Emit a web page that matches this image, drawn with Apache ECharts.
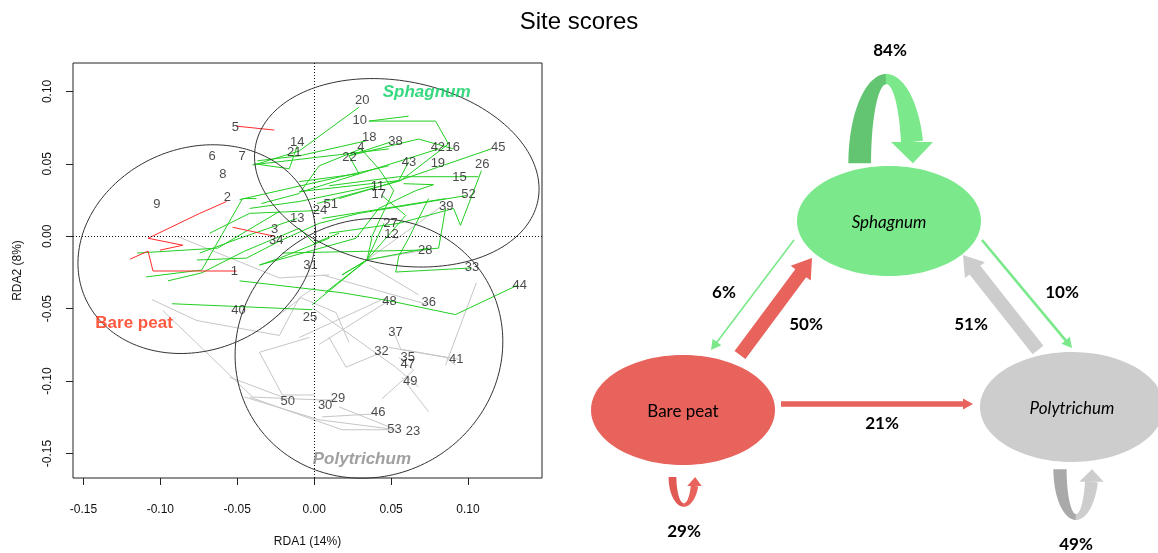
<!DOCTYPE html>
<html>
<head>
<meta charset="utf-8">
<script src="https://cdn.jsdelivr.net/npm/echarts@6/dist/echarts.min.js"></script>
<style>
  html, body { margin: 0; padding: 0; background: #ffffff; }
  #chart { width: 1158px; height: 553px; }
</style>
</head>
<body>
<div id="chart"></div>
<script>
// ---------- RDA site scores ----------
const siteIds = [1, 2, 3, 4, 5, 6, 7, 8, 9, 10, 11, 12, 13, 14, 15, 16, 17, 18, 19, 20,
  21, 22, 23, 24, 25, 26, 27, 28, 29, 30, 31, 32, 33, 34, 35, 36, 37, 38, 39, 40,
  41, 42, 43, 44, 45, 46, 47, 48, 49, 50, 51, 52, 53];
const siteRDA1 = [-0.0519, -0.0565, -0.0257, 0.0304, -0.0513, -0.0664, -0.0468, -0.0593, -0.1022, 0.0296,
  0.0412, 0.0502, -0.011, -0.011, 0.0944, 0.0901, 0.042, 0.0358, 0.0804, 0.0313,
  -0.0129, 0.0229, 0.0642, 0.0037, -0.0028, 0.1093, 0.0496, 0.0722, 0.0155, 0.0071,
  -0.0024, 0.0438, 0.1026, -0.0246, 0.0608, 0.0744, 0.0528, 0.0528, 0.0858, -0.0492,
  0.0923, 0.0804, 0.0617, 0.1337, 0.1197, 0.0416, 0.0608, 0.049, 0.0625, -0.0172,
  0.0108, 0.1003, 0.0522];
const siteRDA2 = [-0.0242, 0.0269, 0.0048, 0.0612, 0.0751, 0.0553, 0.0548, 0.0429, 0.0221, 0.0801,
  0.0347, 0.0014, 0.0123, 0.0649, 0.0409, 0.0614, 0.029, 0.0685, 0.0505, 0.0936,
  0.058, 0.0546, -0.1347, 0.018, -0.0562, 0.0493, 0.0089, -0.01, -0.1121, -0.1169,
  -0.0201, -0.0795, -0.0214, -0.0032, -0.084, -0.0459, -0.0664, 0.0655, 0.0205, -0.0511,
  -0.0847, 0.0614, 0.0511, -0.0338, 0.061, -0.1215, -0.0886, -0.0447, -0.1002, -0.1137,
  0.0219, 0.0288, -0.1331];

// Successional trajectories of the plots through time, by cover type
const bareTracks = [
  [[-0.0505, 0.076], [-0.0259, 0.0733]],
  [[-0.0569, 0.024], [-0.0744, 0.0158], [-0.108, -0.0014], [-0.0854, -0.0062], [-0.1003, -0.0096]],
  [[-0.0505, -0.024], [-0.0776, -0.024], [-0.1048, -0.024], [-0.108, -0.0103], [-0.1197, -0.0158]],
  [[-0.053, 0.0062], [-0.0259, 0]]
];
const sphagnumTracks = [
  [[0.0291, 0.089], [0.0097, 0.074], [-0.0097, 0.0589], [-0.0388, 0.0493]],
  [[0.0614, 0.0829], [0.0356, 0.0795], [0.0789, 0.0795], [0.0873, 0.0637], [0.0563, 0.0384], [0.0019, 0.0226]],
  [[0.0336, 0.0658], [-0.0097, 0.0555], [-0.0369, 0.0521]],
  [[0.0498, 0.0651], [0.0226, 0.0555], [0.0291, 0.0432], [-0.0097, 0.0377]],
  [[0.0304, 0.0603], [0.0032, 0.0486], [-0.0097, 0.0295], [-0.0343, 0.0226]],
  [[0.0614, 0.0514], [0.055, 0.0384], [-0.0097, 0.0308]],
  [[0.1151, 0.0603], [0.055, 0.0384], [0.0162, 0.026]],
  [[0.1067, 0.0411], [0.055, 0.0411], [0.0097, 0.0349]],
  [[0.1087, 0.0452], [0.0951, 0.0075], [0.0906, 0.0192], [0.055, 0.0089], [0.0097, 0.0021]],
  [[0.099, 0.0281], [0.0291, 0.0158], [0.0032, 0.0089]],
  [[0.0854, 0.0192], [0.0809, -0.0082], [0.0679, -0.0096], [-0.0207, -0.0116]],
  [[0.0854, 0.026], [0.0052, 0.0123]],
  [[0.0401, 0.0349], [-0.0097, 0.024], [-0.042, 0.0192]],
  [[0.044, 0.0281], [0.0595, 0.0144], [0.0343, -0.0164], [0.0181, -0.0267]],
  [[0.0453, 0.0089], [0.0343, -0.0164], [-0.0013, -0.0473]],
  [[0.1022, -0.0219], [0.053, -0.0247], [0.055, -0.0137], [0.0614, -0.0014], [0.0744, 0.026]],
  [[0.1326, -0.0336], [0.0918, -0.0541], [0.0485, -0.0445], [0.0181, -0.039], [-0.0485, -0.0308]],
  [[-0.0013, -0.0507], [-0.0925, -0.0466]],
  [[-0.1093, -0.0281], [-0.0731, -0.0233], [-0.0466, 0.026], [-0.0375, 0.026]],
  [[-0.0951, -0.0308], [-0.0731, -0.0253], [-0.0453, -0.0103], [-0.0097, 0.0055]],
  [[-0.1151, -0.0116], [-0.0627, -0.0082], [-0.0226, 0.0171]],
  [[-0.0763, -0.0164], [-0.044, -0.0151], [-0.0226, -0.0034], [0.0032, 0.0089]],
  [[-0.0356, -0.0199], [-0.0226, -0.0151], [0.0097, -0.0014]],
  [[-0.011, 0.0623], [-0.0162, 0.0466], [-0.0388, 0.05]],
  [[0.0032, 0.0178], [-0.042, 0.0158], [-0.0679, 0.0021]],
  [[-0.011, 0.0123], [-0.0485, -0.0014], [-0.0744, -0.0116]],
  [[-0.0356, -0.0199], [0.0272, -0.0014], [0.042, 0.0192]],
  [[0.0071, -0.039], [0.0343, -0.0164], [0.0375, -0.0014]],
  [[0.0181, -0.0267], [0.0343, -0.0164], [0.0744, -0.0082]],
  [[-0.0401, 0.0493], [0.0485, 0.0603]],
  [[-0.0485, 0.0253], [0.0485, 0.0486]],
  [[-0.0078, 0.0308], [0.0809, 0.0603]],
  [[0.0226, 0.0555], [0.0679, 0.0671], [0.0906, 0.0603]],
  [[0.0582, 0.0363], [0.0776, 0.0356], [0.066, 0.0315], [0.042, 0.0192]],
  [[0.0369, -0.0014], [0.0517, 0.0315], [0.042, 0.0466], [0.0304, 0.0603]],
  [[-0.0097, 0.0055], [0, -0.0048], [0.0162, 0.0021]]
];
const polytrichumTracks = [
  [[-0.0893, 0], [-0.0226, -0.0288], [0.0097, -0.0267]],
  [[-0.1054, -0.0438], [-0.0763, -0.0582], [-0.0226, -0.0685], [-0.0097, -0.0425], [0, -0.0356]],
  [[-0.0983, -0.0514], [-0.0615, -0.089], [-0.0401, -0.111], [0.0032, -0.113], [0.0142, -0.113]],
  [[-0.042, -0.111], [0.0181, -0.1336], [0.053, -0.1336]],
  [[0.0052, -0.1247], [0.0401, -0.1226]],
  [[0.0162, -0.1178], [0.0485, -0.1315]],
  [[0.0097, -0.0699], [0.0207, -0.0904], [0.044, -0.0801]],
  [[-0.0032, -0.0699], [-0.0356, -0.0801], [-0.0207, -0.1096], [0, -0.1096]],
  [[0.044, -0.1123], [0.0647, -0.0925], [0.055, -0.0836]],
  [[0.0569, -0.0973], [0.0744, -0.1212]],
  [[0.0485, -0.0767], [0.0854, -0.0836], [0.0918, -0.089]],
  [[0.0854, -0.089], [0.1054, -0.0322]],
  [[0.0356, -0.0199], [0.0679, -0.0404]],
  [[0.0052, -0.0267], [0.0744, -0.0473]],
  [[-0.0097, -0.0699], [0.0466, -0.0425]],
  [[0.0032, -0.0747], [0.0485, -0.0445]],
  [[-0.0013, -0.0493], [0.053, -0.0904], [0.0679, -0.1041]],
  [[-0.0336, -0.063], [-0.0084, -0.0425], [0.0142, -0.0527], [0.0226, -0.0733]],
  [[-0.055, -0.0973], [-0.0207, -0.111]],
  [[0.0524, -0.0678], [0.0563, -0.0781], [0.0938, -0.0849]],
  [[0.0854, 0.0226], [0.0343, -0.0164]],
  [[0.0343, -0.0164], [0.0724, -0.0096]],
  [[-0.0453, -0.111], [0.0032, -0.1267], [0.0485, -0.1329]]
];

// Dispersion ellipses of each cover type (centre, semi-axes in RDA1 units, tilt)
const ellipseGroups = ['Bare peat', 'Sphagnum', 'Polytrichum'];
const ellipseCentreX = [-0.0763, 0.0537, 0.0356];
const ellipseCentreY = [-0.0089, 0.0438, -0.0774];
const ellipseSemiMajor = [0.0792, 0.0935, 0.0883];
const ellipseSemiMinor = [0.0656, 0.0597, 0.0831];
const ellipseTiltDeg = [23, -11, 30];

// Group names placed in the ordination
const groupLabelX = [-0.1171, 0.0731, 0.031];
const groupLabelY = [-0.0603, 0.0993, -0.1541];

const rdaTicks = [-0.15, -0.10, -0.05, 0.00, 0.05, 0.10];

// ---------- Transition diagram ----------
const stateNames = ['Sphagnum', 'Bare peat', 'Polytrichum'];
const transFrom = ['Sphagnum', 'Sphagnum', 'Bare peat', 'Polytrichum', 'Sphagnum', 'Bare peat', 'Bare peat', 'Polytrichum'];
const transTo = ['Sphagnum', 'Bare peat', 'Sphagnum', 'Sphagnum', 'Polytrichum', 'Polytrichum', 'Bare peat', 'Polytrichum'];
const transPct = [84, 6, 50, 51, 10, 21, 29, 49];

// layout of the diagram (right-hand panel units)
const stateStyle = {
  'Sphagnum':    { cx: 309, cy: 221, fill: '#7be98b', dark: '#63c571', italic: true },
  'Bare peat':   { cx: 103, cy: 410, fill: '#e8635c', dark: '#e05a53', italic: false },
  'Polytrichum': { cx: 492, cy: 407, fill: '#cdcdcd', dark: '#a9a9a9', italic: true }
};
const NODE_RX = 92, NODE_RY = 55;
const arrowPlace = {
  'Sphagnum>Bare peat':      { from: [214, 240], to: [131, 350], label: [144, 293] },
  'Bare peat>Sphagnum':      { from: [160, 355], to: [232, 258], label: [226, 325] },
  'Polytrichum>Sphagnum':    { from: [458, 350], to: [383, 255], label: [391, 325] },
  'Sphagnum>Polytrichum':    { from: [402, 240], to: [492, 348], label: [482, 293] },
  'Bare peat>Polytrichum':   { from: [201, 404], to: [393, 404], label: [302, 424] },
  'Sphagnum>Sphagnum':       { loop: true, up: true,  cx: 306.3, cy: 163.3, rx: 26.6, ry: 84.2, label: [310, 51] },
  'Bare peat>Bare peat':     { loop: true, up: false, cx: 103.8, cy: 477,   rx: 11.3, ry: 28,   label: [104, 532] },
  'Polytrichum>Polytrichum': { loop: true, up: false, cx: 496,   cy: 469.3, rx: 16,   ry: 47.7, label: [496, 545] }
};
const WIDTH_PER_PCT = 0.27;

const FONT_R = 'Liberation Sans, Arial, sans-serif';
const FONT_D = 'Lato, "Open Sans", sans-serif';

function toPts(api, pts) { return pts.map(p => api.coord(p)); }

function straightArrow(p0, p1, w) {
  const hw = Math.max(1.85 * w, 11), hl = Math.max(1.4 * w, 10);
  const dx = p1[0] - p0[0], dy = p1[1] - p0[1], L = Math.hypot(dx, dy);
  const ux = dx / L, uy = dy / L, nx = -uy, ny = ux;
  const bx = p1[0] - ux * hl, by = p1[1] - uy * hl;
  return [
    [p0[0] + nx * w / 2, p0[1] + ny * w / 2],
    [bx + nx * w / 2, by + ny * w / 2],
    [bx + nx * hw / 2, by + ny * hw / 2],
    [p1[0], p1[1]],
    [bx - nx * hw / 2, by - ny * hw / 2],
    [bx - nx * w / 2, by - ny * w / 2],
    [p0[0] - nx * w / 2, p0[1] - ny * w / 2]
  ];
}

function loopArrow(L, w) {
  const wt = 0.45 * w;
  const hl = Math.max(0.94 * w, 9), hw = Math.max(1.85 * w, 11);
  const s = L.up ? -1 : 1;
  const pt = (t, dr, dv) => [L.cx + (L.rx + dr) * Math.cos(t), L.cy + s * (L.ry + dv) * Math.sin(t)];
  const N = 36;
  const band = (t0, t1) => {
    const outer = [], inner = [];
    for (let k = 0; k <= N; k++) {
      const t = t0 + (t1 - t0) * k / N;
      outer.push(pt(t, w / 2, wt / 2));
      inner.push(pt(t, -w / 2, -wt / 2));
    }
    return outer.concat(inner.reverse());
  };
  const tEnd = Math.asin(Math.min(1, hl / L.ry));
  const first = band(Math.PI, Math.PI / 2);
  const second = band(Math.PI / 2 + 0.02, tEnd);
  const baseX = L.cx + L.rx * Math.cos(tEnd), baseY = L.cy + s * L.ry * Math.sin(tEnd);
  const head = [[baseX - hw / 2, baseY], [baseX + hw / 2, baseY], [L.cx + L.rx, L.cy]];
  return { first, second, head };
}

const chart = echarts.init(document.getElementById('chart'), null, { renderer: 'canvas' });

const option = {
  animation: false,
  backgroundColor: '#ffffff',
  title: {
    text: 'Site scores', left: 'center', top: 5,
    textStyle: { fontFamily: FONT_R, fontSize: 24, fontWeight: 'normal', color: '#000' }
  },
  grid: [
    { left: 73, top: 63, width: 469, height: 420, show: true, borderColor: '#222', borderWidth: 1, backgroundColor: 'transparent' },
    { left: 580, top: 0, width: 578, height: 553, show: false }
  ],
  xAxis: [
    {
      gridIndex: 0, type: 'value', min: -0.1568, max: 0.1481, position: 'bottom',
      axisLine: { show: false, onZero: false }, splitLine: { show: false },
      axisTick: { show: true, length: 7, customValues: rdaTicks, lineStyle: { color: '#222' } },
      axisLabel: { customValues: rdaTicks, formatter: v => v.toFixed(2), margin: 26, fontSize: 12, color: '#111', fontFamily: FONT_R },
      name: 'RDA1 (14%)', nameLocation: 'middle', nameGap: 58,
      nameTextStyle: { fontSize: 12, color: '#111', fontFamily: FONT_R }
    },
    { gridIndex: 1, type: 'value', min: 0, max: 578, show: false }
  ],
  yAxis: [
    {
      gridIndex: 0, type: 'value', min: -0.1669, max: 0.1196, position: 'left',
      axisLine: { show: false, onZero: false }, splitLine: { show: false },
      axisTick: { show: true, length: 7, customValues: rdaTicks, lineStyle: { color: '#222' } },
      axisLabel: { customValues: rdaTicks, formatter: v => v.toFixed(2), rotate: 90, margin: 19, fontSize: 12, color: '#111', fontFamily: FONT_R },
      name: 'RDA2 (8%)', nameLocation: 'middle', nameGap: 49,
      nameTextStyle: { fontSize: 12, color: '#111', fontFamily: FONT_R }
    },
    { gridIndex: 1, type: 'value', min: 0, max: 553, inverse: true, show: false }
  ],
  series: [
    {
      name: 'Polytrichum tracks', type: 'lines', coordinateSystem: 'cartesian2d', xAxisIndex: 0, yAxisIndex: 0,
      polyline: true, silent: true, z: 2,
      lineStyle: { color: '#c6c6c6', width: 1, opacity: 1 },
      data: polytrichumTracks.map(c => ({ coords: c })),
      markLine: {
        silent: true, symbol: 'none', label: { show: false },
        lineStyle: { type: [1, 2], color: '#111', width: 1 },
        data: [{ xAxis: 0 }, { yAxis: 0 }]
      }
    },
    {
      name: 'Sphagnum tracks', type: 'lines', coordinateSystem: 'cartesian2d', xAxisIndex: 0, yAxisIndex: 0,
      polyline: true, silent: true, z: 3,
      lineStyle: { color: '#22cf22', width: 1, opacity: 1 },
      data: sphagnumTracks.map(c => ({ coords: c }))
    },
    {
      name: 'Bare peat tracks', type: 'lines', coordinateSystem: 'cartesian2d', xAxisIndex: 0, yAxisIndex: 0,
      polyline: true, silent: true, z: 4,
      lineStyle: { color: '#ff2a2a', width: 1, opacity: 1 },
      data: bareTracks.map(c => ({ coords: c }))
    },
    {
      name: 'ellipses', type: 'custom', xAxisIndex: 0, yAxisIndex: 0, silent: true, z: 5,
      data: ellipseGroups.map((g, i) => [ellipseCentreX[i], ellipseCentreY[i], i]),
      renderItem: (params, api) => {
        const i = api.value(2);
        const c = api.coord([ellipseCentreX[i], ellipseCentreY[i]]);
        const k = api.size([1, 0])[0];
        const a = ellipseSemiMajor[i] * k, b = ellipseSemiMinor[i] * k;
        const th = ellipseTiltDeg[i] * Math.PI / 180;
        const pts = [];
        for (let j = 0; j < 180; j++) {
          const t = j / 180 * Math.PI * 2;
          const X = a * Math.cos(t) * Math.cos(th) - b * Math.sin(t) * Math.sin(th);
          const Y = a * Math.cos(t) * Math.sin(th) + b * Math.sin(t) * Math.cos(th);
          pts.push([c[0] + X, c[1] - Y]);
        }
        return { type: 'polygon', shape: { points: pts }, style: { fill: 'none', stroke: '#333', lineWidth: 1 } };
      }
    },
    {
      name: 'sites', type: 'scatter', xAxisIndex: 0, yAxisIndex: 0, silent: true, z: 6,
      symbol: 'circle', symbolSize: 1, itemStyle: { color: 'rgba(0,0,0,0)' },
      data: siteIds.map((id, i) => ({ name: String(id), value: [siteRDA1[i], siteRDA2[i]] })),
      label: { show: true, position: 'inside', formatter: p => p.name, fontSize: 13, color: '#1a1a1a', fontFamily: FONT_R }
    },
    {
      name: 'groups', type: 'scatter', xAxisIndex: 0, yAxisIndex: 0, silent: true, z: 7,
      symbol: 'circle', symbolSize: 1, itemStyle: { color: 'rgba(0,0,0,0)' },
      data: ellipseGroups.map((g, i) => ({
        name: g, value: [groupLabelX[i], groupLabelY[i]],
        label: {
          color: ['#ff3010', '#05cf5f', '#888888'][i],
          fontStyle: i === 0 ? 'normal' : 'italic'
        }
      })),
      label: { show: true, position: 'inside', formatter: p => p.name, fontSize: 17, fontWeight: 'bold', fontFamily: FONT_R }
    },
    {
      name: 'transitions', type: 'custom', xAxisIndex: 1, yAxisIndex: 1, silent: true, z: 8,
      data: transPct.map((p, i) => [0, 0, i, p]),
      renderItem: (params, api) => {
        const i = api.value(2), pct = api.value(3);
        const key = transFrom[i] + '>' + transTo[i];
        const L = arrowPlace[key];
        const st = stateStyle[transFrom[i]];
        const w = pct * WIDTH_PER_PCT;
        const children = [];
        if (L.loop) {
          const g = loopArrow(L, w);
          children.push({ type: 'polygon', shape: { points: toPts(api, g.first) }, style: { fill: st.dark } });
          children.push({ type: 'polygon', shape: { points: toPts(api, g.second) }, style: { fill: st.fill } });
          children.push({ type: 'polygon', shape: { points: toPts(api, g.head) }, style: { fill: st.fill } });
        } else {
          children.push({ type: 'polygon', shape: { points: toPts(api, straightArrow(L.from, L.to, w)) }, style: { fill: st.fill } });
        }
        const lp = api.coord(L.label);
        children.push({
          type: 'text',
          style: { text: pct + '%', x: lp[0], y: lp[1], fill: '#000', fontSize: 17, fontWeight: 'bold', fontFamily: FONT_D, align: 'center', verticalAlign: 'middle' }
        });
        return { type: 'group', children };
      }
    },
    {
      name: 'states', type: 'custom', xAxisIndex: 1, yAxisIndex: 1, silent: true, z: 9,
      data: stateNames.map((n, i) => [0, 0, i]),
      renderItem: (params, api) => {
        const name = stateNames[api.value(2)];
        const st = stateStyle[name];
        const c = api.coord([st.cx, st.cy]);
        const r = api.size([NODE_RX, NODE_RY]);
        return {
          type: 'group',
          children: [
            { type: 'ellipse', shape: { cx: c[0], cy: c[1], rx: r[0], ry: r[1] }, style: { fill: st.fill } },
            {
              type: 'text',
              style: {
                text: name, x: c[0], y: c[1] + 2, fill: '#000', fontSize: 17, fontFamily: FONT_D,
                fontStyle: st.italic ? 'italic' : 'normal', align: 'center', verticalAlign: 'middle'
              }
            }
          ]
        };
      }
    }
  ]
};

chart.setOption(option);
</script>
</body>
</html>
